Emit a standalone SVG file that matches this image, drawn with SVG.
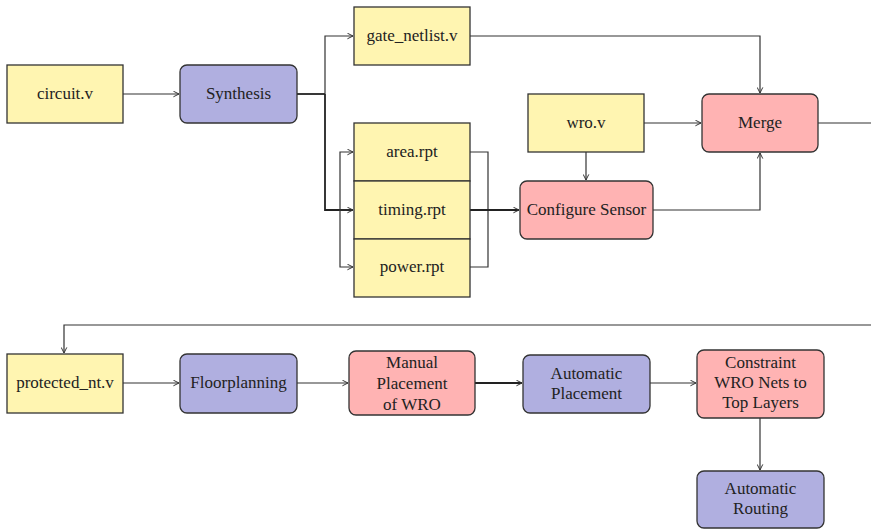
<svg xmlns="http://www.w3.org/2000/svg" width="871" height="529" viewBox="0 0 871 529">
  <style>
    .file { fill: #fff5b1; stroke: #333; stroke-width: 1.3; }
    .tool { fill: #b0afe0; stroke: #333; stroke-width: 1.3; }
    .sec  { fill: #ffb3b3; stroke: #333; stroke-width: 1.3; }
    .wire { fill: none; stroke: #333; stroke-width: 1.2; }
    .bold { stroke-width: 1.8; stroke: #222; }
  </style>
  <defs>
    <marker id="arr" viewBox="0 0 10 10" refX="9" refY="5" markerWidth="7" markerHeight="7" markerUnits="userSpaceOnUse" orient="auto">
      <path d="M1,1 L9,5 L1,9" fill="none" stroke="#333" stroke-width="1.4"/>
    </marker>
  </defs>

  <!-- connectors -->
  <g id="connectors">
    <path class="wire" d="M123,94 H179" marker-end="url(#arr)"/>
    <path class="wire bold" d="M297,94 H325"/>
    <path class="wire" d="M325,94 V36 H353" marker-end="url(#arr)"/>
    <path class="wire bold" d="M325,94 V210 H353" marker-end="url(#arr)"/>
    <path class="wire" d="M353,210 H340 V152 H353" marker-end="url(#arr)"/>
    <path class="wire" d="M340,210 V267 H353" marker-end="url(#arr)"/>
    <path class="wire" d="M470,152 H488 V267 H470"/>
    <path class="wire bold" d="M470,210 H519" marker-end="url(#arr)"/>
    <path class="wire" d="M470,36 H760 V93" marker-end="url(#arr)"/>
    <path class="wire" d="M644,123 H701" marker-end="url(#arr)"/>
    <path class="wire" d="M586,152 V180" marker-end="url(#arr)"/>
    <path class="wire" d="M653,210 H760 V153" marker-end="url(#arr)"/>
    <path class="wire" d="M818,123 H871"/>
    <path class="wire" d="M871,325 H64 V353" marker-end="url(#arr)"/>
    <path class="wire" d="M123,383 H179" marker-end="url(#arr)"/>
    <path class="wire" d="M297,383 H348" marker-end="url(#arr)"/>
    <path class="wire bold" d="M475,383 H522" marker-end="url(#arr)"/>
    <path class="wire" d="M650,383 H696" marker-end="url(#arr)"/>
    <path class="wire" d="M760,418 V470" marker-end="url(#arr)"/>
  </g>

  <g id="circuit">
    <rect class="file" x="7" y="65" width="116" height="58"/>
    <text font-family="Liberation Serif" font-size="17" fill="#222" text-anchor="middle" x="65" y="99">circuit.v</text>
  </g>
  <g id="synthesis">
    <rect class="tool" x="180" y="65" width="117" height="58" rx="7"/>
    <text font-family="Liberation Serif" font-size="17" fill="#222" text-anchor="middle" x="238.5" y="99">Synthesis</text>
  </g>
  <g id="gate-netlist">
    <rect class="file" x="354" y="7" width="116" height="58"/>
    <text font-family="Liberation Serif" font-size="17" fill="#222" text-anchor="middle" x="412" y="41">gate_netlist.v</text>
  </g>
  <g id="area-rpt">
    <rect class="file" x="354" y="123" width="116" height="58"/>
    <text font-family="Liberation Serif" font-size="17" fill="#222" text-anchor="middle" x="412" y="157">area.rpt</text>
  </g>
  <g id="timing-rpt">
    <rect class="file" x="354" y="181" width="116" height="58"/>
    <text font-family="Liberation Serif" font-size="17" fill="#222" text-anchor="middle" x="412" y="215">timing.rpt</text>
  </g>
  <g id="power-rpt">
    <rect class="file" x="354" y="239" width="116" height="58"/>
    <text font-family="Liberation Serif" font-size="17" fill="#222" text-anchor="middle" x="412" y="272">power.rpt</text>
  </g>
  <g id="wro">
    <rect class="file" x="528" y="94" width="116" height="58"/>
    <text font-family="Liberation Serif" font-size="17" fill="#222" text-anchor="middle" x="586" y="128">wro.v</text>
  </g>
  <g id="configure-sensor">
    <rect class="sec" x="520" y="181" width="133" height="58" rx="7"/>
    <text font-family="Liberation Serif" font-size="17" fill="#222" text-anchor="middle" x="586.5" y="215">Configure Sensor</text>
  </g>
  <g id="merge">
    <rect class="sec" x="702" y="94" width="116" height="58" rx="7"/>
    <text font-family="Liberation Serif" font-size="17" fill="#222" text-anchor="middle" x="760" y="128">Merge</text>
  </g>
  <g id="protected-nt">
    <rect class="file" x="7" y="354" width="116" height="59"/>
    <text font-family="Liberation Serif" font-size="17" fill="#222" text-anchor="middle" x="65" y="388">protected_nt.v</text>
  </g>
  <g id="floorplanning">
    <rect class="tool" x="180" y="354" width="117" height="59" rx="7"/>
    <text font-family="Liberation Serif" font-size="17" fill="#222" text-anchor="middle" x="238.5" y="388">Floorplanning</text>
  </g>
  <g id="manual-placement">
    <rect class="sec" x="349" y="351" width="126" height="64" rx="7"/>
    <text font-family="Liberation Serif" font-size="17" fill="#222" text-anchor="middle" x="412" y="368">Manual</text>
    <text font-family="Liberation Serif" font-size="17" fill="#222" text-anchor="middle" x="412" y="389">Placement</text>
    <text font-family="Liberation Serif" font-size="17" fill="#222" text-anchor="middle" x="412" y="410">of WRO</text>
  </g>
  <g id="automatic-placement">
    <rect class="tool" x="523" y="355" width="127" height="58" rx="7"/>
    <text font-family="Liberation Serif" font-size="17" fill="#222" text-anchor="middle" x="586.5" y="379">Automatic</text>
    <text font-family="Liberation Serif" font-size="17" fill="#222" text-anchor="middle" x="586.5" y="399">Placement</text>
  </g>
  <g id="constraint-nets">
    <rect class="sec" x="697" y="350" width="127" height="68" rx="7"/>
    <text font-family="Liberation Serif" font-size="17" fill="#222" text-anchor="middle" x="760.5" y="368">Constraint</text>
    <text font-family="Liberation Serif" font-size="17" fill="#222" text-anchor="middle" x="760.5" y="388">WRO Nets to</text>
    <text font-family="Liberation Serif" font-size="17" fill="#222" text-anchor="middle" x="760.5" y="408">Top Layers</text>
  </g>
  <g id="automatic-routing">
    <rect class="tool" x="697" y="471" width="127" height="57" rx="7"/>
    <text font-family="Liberation Serif" font-size="17" fill="#222" text-anchor="middle" x="760.5" y="494">Automatic</text>
    <text font-family="Liberation Serif" font-size="17" fill="#222" text-anchor="middle" x="760.5" y="514">Routing</text>
  </g>
</svg>
